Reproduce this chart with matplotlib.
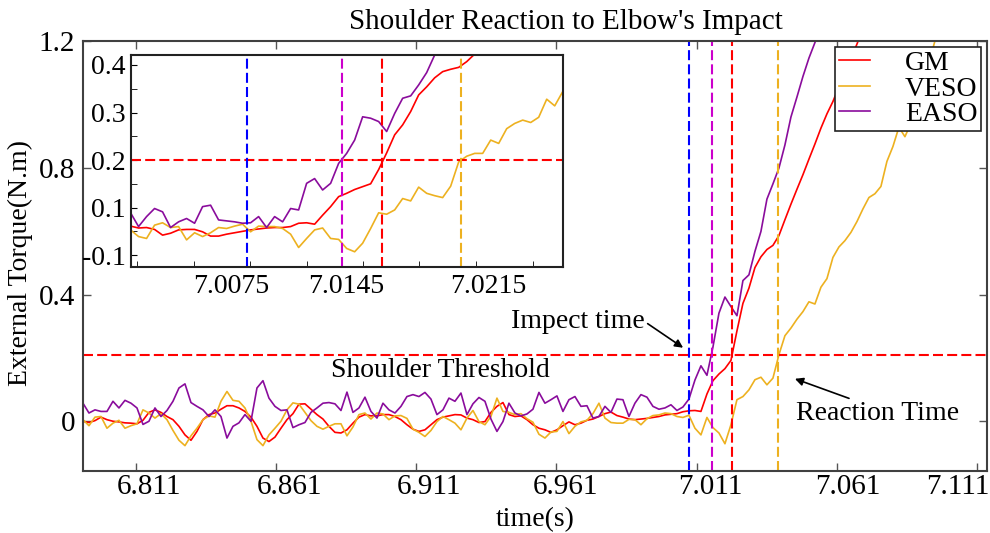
import numpy as np
import matplotlib
matplotlib.use("Agg")
from matplotlib import pyplot as plt
from matplotlib.transforms import ScaledTranslation

plt.rcParams['font.family'] = ['Liberation Serif', 'DejaVu Serif']
plt.rcParams['font.size'] = 20

# main trace: one sample every ~2.14 ms
t_main = np.linspace(6.79209, 7.11317, 151)
gm = [0.0, -0.004, 0.002, 0.013, 0.005, 0.0, -0.002, -0.005, -0.006, -0.008,
      0.003, 0.028, 0.036, 0.028, 0.015, 0.005, -0.016, -0.043, -0.06, -0.032,
      0.005, 0.021, 0.026, 0.038, 0.049, 0.049, 0.042, 0.031, 0.013, -0.016,
      -0.053, -0.064, -0.05, -0.022, 0.005,
      0.024, 0.054, 0.055, 0.038, 0.021, 0.007, -0.016, -0.035, -0.037, -0.027,
      -0.006, 0.013, 0.021, 0.017, 0.017, 0.021, 0.021, 0.015, 0.005, -0.011,
      -0.025, -0.032, -0.027, -0.011, 0.005, 0.013, 0.017, 0.021, 0.020, 0.010,
      0.005, -0.004, -0.001, 0.028, 0.047,
      0.059, 0.021, 0.015, 0.017, 0.005, -0.011, -0.022, -0.027, -0.035, -0.027,
      -0.014, -0.002, -0.011, -0.006, 0.003, 0.007, 0.015, 0.024, 0.029, 0.018,
      0.013, 0.007, 0.005, 0.007, 0.009, 0.012, 0.015, 0.020, 0.022, 0.024,
      0.030, 0.033, 0.034, 0.031, 0.086, 0.128, 0.149, 0.166, 0.192, 0.285,
      0.372, 0.420, 0.485, 0.519, 0.542, 0.555, 0.586, 0.636, 0.685, 0.732,
      0.778, 0.827, 0.875, 0.925, 0.970, 1.009, 1.056, 1.099, 1.145, 1.190,
      1.240, 1.290]
veso = [0.005, -0.014, 0.013, 0.015, -0.022, -0.006, 0.003, -0.022, -0.014, -0.008,
        0.036, 0.026, 0.010, 0.024, 0.005, -0.029, -0.060, -0.077, -0.046, -0.022,
        0.005, 0.017, 0.013, 0.063, 0.094, 0.066, 0.063, 0.042, 0.000, -0.058,
        -0.077, -0.043, -0.022, 0.000, 0.036,
        0.058, 0.054, 0.028, 0.002, -0.016, -0.025, -0.016, -0.008, -0.008, -0.046,
        -0.018, 0.021, 0.026, 0.007, 0.026, 0.023, 0.005, 0.017, 0.018, 0.009,
        -0.025, -0.035, -0.048, -0.029, -0.001, 0.015, 0.005, -0.006, -0.027, 0.010,
        0.034, -0.001, -0.011, 0.015, 0.073,
        0.031, 0.028, 0.021, 0.024, 0.008, -0.003, -0.041, -0.053, -0.034, -0.032,
        -0.001, -0.039, -0.016, -0.002, 0.003, 0.024, 0.057, 0.010, -0.004, -0.006,
        -0.006, 0.006, 0.005, -0.011, 0.008, 0.018, 0.020, 0.026, 0.024, 0.015,
        0.012, 0.019, -0.022, -0.043, 0.012, -0.020, -0.037, -0.071, -0.011, 0.068,
        0.078, 0.099, 0.131, 0.139, 0.115, 0.136, 0.210, 0.270, 0.294, 0.322,
        0.346, 0.377, 0.370, 0.423, 0.450, 0.517, 0.550, 0.570, 0.596, 0.630,
        0.670, 0.706, 0.718, 0.741, 0.820, 0.867, 0.928, 0.898, 0.940, 1.000,
        1.070, 1.130, 1.200, 1.260]
easo = [0.057, 0.026, 0.036, 0.031, 0.031, 0.063, 0.042, 0.066, 0.057, 0.042,
        -0.010, 0.000, 0.042, 0.015, 0.034, 0.063, 0.105, 0.118, 0.059, 0.047,
        0.036, 0.015, 0.036, 0.015, -0.053, -0.016, -0.005, 0.021, 0.000, 0.105,
        0.128, 0.073, 0.047, 0.034, 0.036,
        -0.020, -0.011, -0.004, 0.028, 0.042, 0.057, 0.059, 0.055, 0.034, 0.092,
        0.028, 0.042, 0.076, 0.031, 0.010, 0.057, 0.036, 0.026, 0.047, 0.078,
        0.084, 0.078, 0.091, 0.070, 0.021, 0.036, 0.073, 0.063, 0.089, 0.021,
        0.055, 0.075, 0.063, 0.007, -0.032,
        -0.001, 0.057, 0.026, 0.017, 0.023, 0.038, 0.091, 0.057, 0.068, 0.080,
        0.031, 0.068, 0.078, 0.047, 0.049, 0.010, 0.015, 0.047, 0.028, 0.070,
        0.068, 0.015, 0.057, 0.084, 0.076, 0.047, 0.038, 0.042, 0.052, 0.034,
        0.045, 0.070, 0.130, 0.175, 0.145, 0.234, 0.341, 0.392, 0.362, 0.333,
        0.444, 0.462, 0.536, 0.599, 0.701, 0.749, 0.799, 0.872, 0.960, 1.023,
        1.088, 1.146, 1.195, 1.245]

# zoomed view around the impact
t_zoom = np.linspace(7.00203, 7.02557, 55)
gm_zoom = [0.061, 0.057, 0.058, 0.054, 0.042, 0.046, 0.053, 0.054, 0.054, 0.049,
           0.040, 0.040, 0.044, 0.047, 0.050, 0.053, 0.055, 0.057, 0.058, 0.058,
           0.060, 0.067, 0.068, 0.065, 0.084, 0.102, 0.123, 0.130, 0.138, 0.144,
           0.150, 0.180, 0.215, 0.253, 0.274, 0.302, 0.337, 0.354, 0.373, 0.386,
           0.391, 0.395, 0.407, 0.423, 0.440]
veso_zoom = [0.053, 0.039, 0.035, 0.063, 0.068, 0.058, 0.060, 0.032, 0.047, 0.039,
             0.047, 0.058, 0.056, 0.061, 0.065, 0.049, 0.061, 0.060, 0.060, 0.056,
             0.044, 0.016, 0.035, 0.053, 0.057, 0.035, 0.033, 0.014, 0.007, 0.025,
             0.056, 0.089, 0.086, 0.095, 0.119, 0.114, 0.143, 0.130, 0.125, 0.121,
             0.145, 0.196, 0.208, 0.214, 0.214, 0.242, 0.235, 0.266, 0.277, 0.284,
             0.279, 0.290, 0.328, 0.314, 0.344]
easo_zoom = [0.089, 0.060, 0.081, 0.098, 0.091, 0.058, 0.070, 0.077, 0.067, 0.102,
             0.105, 0.074, 0.072, 0.070, 0.067, 0.068, 0.081, 0.058, 0.081, 0.070,
             0.098, 0.095, 0.151, 0.161, 0.137, 0.151, 0.193, 0.214, 0.242, 0.291,
             0.288, 0.281, 0.260, 0.298, 0.330, 0.335, 0.358, 0.384, 0.421, 0.450]

threshold = 0.208
threshold_zoom = 0.2
# impact, EASO, GM and VESO reaction instants
marks_main = [7.0083, 7.0166, 7.0238, 7.0400]
marks_zoom = [7.00835, 7.01355, 7.01573, 7.02001]
mark_colors = ['#0000ff', '#cc00cc', '#ff0000', '#edb120']

xticks_main = [6.811, 6.861, 6.911, 6.961, 7.011, 7.061, 7.111]
yticks_main = [0, 0.4, 0.8, 1.2]
xticks_zoom = [7.0075, 7.0145, 7.0215]
yticks_zoom = [0.0, 0.1, 0.2, 0.3, 0.4]
ylabels_zoom = ['-0.1', '0.1', '0.2', '0.3', '0.4']

c_gm, c_veso, c_easo = '#ff0000', '#edb120', '#8a0c9c'
dash = (0, (4.8, 2.0))


def shift_labels(labels, offsets_px):
    for lab, dx in zip(labels, offsets_px):
        lab.set_transform(lab.get_transform()
                          + ScaledTranslation(dx / 100, 0, fig.dpi_scale_trans))


fig = plt.figure(figsize=(9.9, 5.33), dpi=100)
ax = fig.add_axes([0.0835, 0.1169, 0.9134, 0.8062])

l1, = ax.plot(t_main[:len(gm)], gm, color=c_gm, lw=1.2)
l2, = ax.plot(t_main[:len(veso)], veso, color=c_veso, lw=1.2)
l3, = ax.plot(t_main[:len(easo)], easo, color=c_easo, lw=1.2)
ax.axhline(threshold, color='#ff0000', lw=1.5, ls=dash)
for xv, c in zip(marks_main, mark_colors):
    ax.axvline(xv, color=c, lw=1.5, ls=dash)

ax.set_xlim(6.79198, 7.1146)
ax.set_ylim(-0.156, 1.2)
ax.set_xticks(xticks_main, labels=[f'{v:.3f}' for v in xticks_main])
ax.set_yticks(yticks_main, labels=['0', '0.4', '0.8', '1.2'])
ax.tick_params(direction='in', length=6, width=1.0, color='#555555',
               top=True, right=True, labelsize=21)
ax.tick_params(axis='y', pad=5.5)
ax.tick_params(axis='x', pad=2.5)
shift_labels(ax.get_xticklabels(), [13, 13, 13, 9, 14, 11, -19])
for s in ax.spines.values():
    s.set_color('#404040')
    s.set_linewidth(1.5)

ax.set_xlabel('time(s)', fontsize=20, labelpad=5)
ax.set_ylabel('External Torque(N.m)', fontsize=20)
ax.yaxis.set_label_coords(-0.055, 0.483)

fig.text(566 / 990, 1 - 22 / 533, "Shoulder Reaction to Elbow's Impact",
         fontsize=21, ha='center', va='center')

ax.text(6.9195, 0.159, 'Shoulder Threshold', fontsize=20, ha='center', va='center')
arrow = dict(arrowstyle='-|>', color='black', lw=1.2, mutation_scale=12,
             shrinkA=0, shrinkB=0)
ax.annotate('Impect time', xy=(7.0062, 0.232), xytext=(6.9687, 0.314),
            ha='center', va='center', fontsize=20,
            arrowprops=dict(arrow, relpos=(1.0, 0.5)))
ax.annotate('Reaction Time', xy=(7.0461, 0.134), xytext=(7.0757, 0.024),
            ha='center', va='center', fontsize=20,
            arrowprops=dict(arrow, relpos=(0.37, 1.0)))

leg = ax.legend([l1, l2, l3], ['GM', 'VESO', 'EASO'], loc='upper right',
                fontsize=20, fancybox=False, framealpha=1, edgecolor='#222222',
                borderaxespad=0.2, handlelength=1.1, handletextpad=1.25,
                labelspacing=0.0, borderpad=0.15)
leg.get_frame().set_linewidth(1.2)

# inset
axi = fig.add_axes([0.1323, 0.4991, 0.4364, 0.3977])
axi.plot(t_zoom[:len(gm_zoom)], gm_zoom, color=c_gm, lw=1.2)
axi.plot(t_zoom[:len(veso_zoom)], veso_zoom, color=c_veso, lw=1.2)
axi.plot(t_zoom[:len(easo_zoom)], easo_zoom, color=c_easo, lw=1.2)
axi.axhline(threshold_zoom, color='#ff0000', lw=1.5, ls=dash)
for xv, c in zip(marks_zoom, mark_colors):
    axi.axvline(xv, color=c, lw=1.5, ls=dash)
axi.set_xlim(7.002053, 7.025586)
axi.set_ylim(-0.025, 0.421)
axi.set_xticks(xticks_zoom, labels=[f'{v:.4f}' for v in xticks_zoom])
axi.set_xticks([7.00240, 7.00549, 7.00854, 7.01163, 7.01468, 7.01776,
                7.02085, 7.02394], minor=True)
axi.set_yticks(yticks_zoom, labels=ylabels_zoom)
axi.set_yticks([0.05, 0.15, 0.25, 0.35], minor=True)
axi.tick_params(axis='x', which='major', length=0, pad=5, labelsize=20)
axi.tick_params(axis='x', which='minor', direction='in', length=4)
axi.tick_params(axis='y', which='both', direction='in', length=4, pad=4,
                labelsize=20)
shift_labels(axi.get_xticklabels(), [0, -13, 0])
for s in axi.spines.values():
    s.set_color('#222222')
    s.set_linewidth(1.5)

fig.savefig('out.png', dpi=100)
